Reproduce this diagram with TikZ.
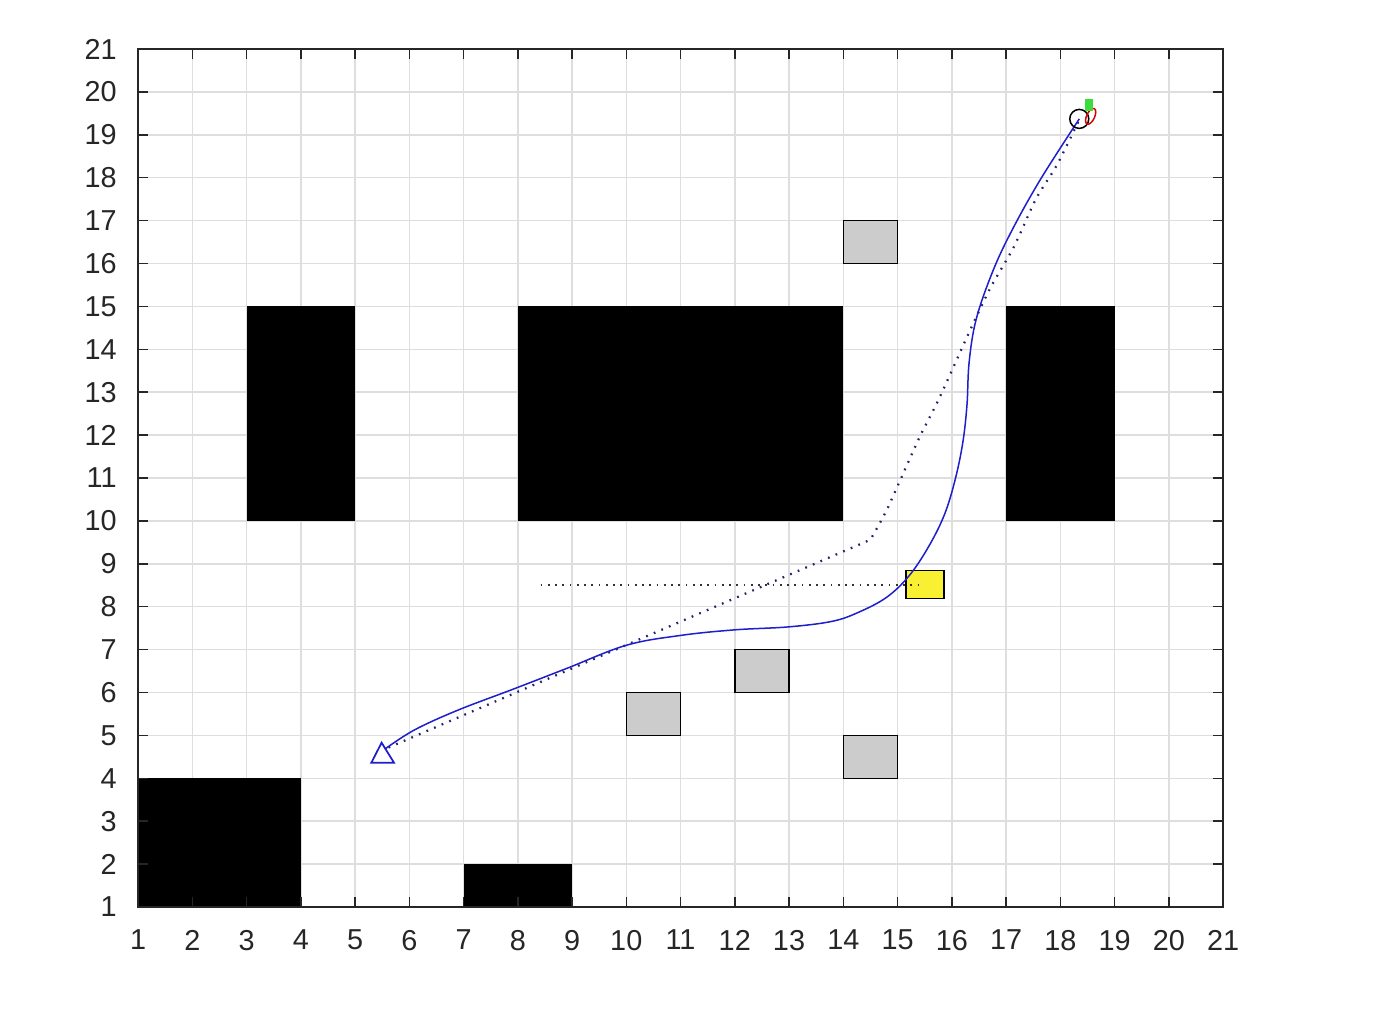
\documentclass[tikz,border=0pt]{standalone}
\usepackage{fontspec}
\setmainfont{Liberation Sans}
\definecolor{axgray}{RGB}{38,38,38}
\definecolor{gridgray}{RGB}{222,222,222}
\definecolor{boxgray}{RGB}{204,204,204}
\definecolor{pathblue}{RGB}{30,30,205}
\definecolor{dotblue}{RGB}{35,35,110}
\definecolor{markyellow}{RGB}{250,240,50}
\definecolor{markgreen}{RGB}{60,220,60}
\begin{document}
\begin{tikzpicture}[x=1.085cm,y=0.858cm,
  obst/.style={fill=black,draw=none},
  graybox/.style={fill=boxgray,draw=black,line width=0.03cm},
  gridline/.style={draw=gridgray,line width=0.03cm},
  frameline/.style={draw=axgray,line width=0.03cm},
  tickmark/.style={draw=axgray,line width=0.03cm},
  ticklabel/.style={text=axgray,inner sep=0pt,text depth=0pt,font=\fontsize{16.4}{19}\selectfont},
  solidpath/.style={draw=pathblue,line width=0.03cm,line join=round},
  dotpath/.style={draw=dotblue,line width=0.045cm,dash pattern=on 0.035cm off 0.13cm},
  hdot/.style={draw=black!80,line width=0.04cm,dash pattern=on 0.035cm off 0.11cm}
]
% canvas
\fill[white] (-1.544,-1.634) rectangle (24.078,22.142);
\useasboundingbox (-1.544,-1.634) rectangle (24.078,22.142);
% grid
\foreach \i in {2,...,20} {
  \draw[gridline] (\i,1) -- (\i,21);
  \draw[gridline] (1,\i) -- (21,\i);
}
% black obstacles
\fill[obst] (3,10) rectangle (5,15);
\fill[obst] (8,10) rectangle (14,15);
\fill[obst] (17,10) rectangle (19,15);
\fill[obst] (1,1) rectangle (4,4);
\fill[obst] (7,1) rectangle (9,2);
% gray obstacles
\draw[graybox] (14,16) rectangle (15,17);
\draw[graybox] (12,6) rectangle (13,7);
\draw[graybox] (10,5) rectangle (11,6);
\draw[graybox] (14,4) rectangle (15,5);
% yellow box
\draw[fill=markyellow,draw=black,line width=0.03cm] (15.16,8.19) rectangle (15.86,8.84);
% horizontal dotted line
\coordinate (hs) at (8.42,8.5);
\coordinate (he) at (15.5,8.5);
\draw[hdot] (hs) -- (he);
% dotted path
\coordinate (goal) at (5.55,4.68);
\coordinate (kink) at (14.5,9.56);
\draw[dotpath] plot[smooth,tension=0.5] coordinates {(18.33,19.3) (17.94,18.3) (17.55,17.5) (17.15,16.4) (16.72,15.45) (16.34,14.45) (15.78,12.89) (15.41,11.96) (15.05,10.95) (14.78,10.2) (14.5,9.56)} -- (goal);
% solid path
\draw[solidpath] plot[smooth,tension=0.6] coordinates {(18.35,19.37) (17.63,17.95) (17.1,16.75) (16.75,15.8) (16.45,14.7) (16.32,13.7) (16.28,12.7) (16.2,11.8) (16.05,10.9) (15.85,10.1) (15.55,9.35) (15.2,8.7) (14.8,8.22) (14.3,7.88) (13.8,7.66) (13.0,7.53) (12.0,7.46) (11.0,7.33) (10.0,7.1) (8.9,6.56) (7.9,6.07) (6.9,5.59) (6.1,5.13) (5.55,4.68)};
% goal triangle
\draw[draw=pathblue,line width=0.035cm,line join=miter] (5.49,4.83) -- (5.30,4.36) -- (5.72,4.36) -- cycle;
% start marker
\draw[black,line width=0.03cm] (18.35,19.37) circle[radius=0.19cm];
\draw[red!85!black,line width=0.03cm] (18.56,19.43) ellipse[x radius=0.08cm,y radius=0.17cm,rotate=-25];
\fill[markgreen] (18.45,19.56) rectangle (18.60,19.84);
% frame
\draw[frameline] (1,1) rectangle (21,21);
% ticks and labels
\foreach \i in {1,...,21} {
  \draw[tickmark] (\i,1) -- ++(0,0.2cm);
  \draw[tickmark] (\i,21) -- ++(0,-0.2cm);
  \draw[tickmark] (1,\i) -- ++(0.2cm,0);
  \draw[tickmark] (21,\i) -- ++(-0.2cm,0);
  \node[ticklabel,anchor=center] (xl\i) at (\i,0.23) {\i};
  \node[ticklabel,anchor=east] (yl\i) at (0.613,\i) {\i};
}
\end{tikzpicture}
\end{document}
